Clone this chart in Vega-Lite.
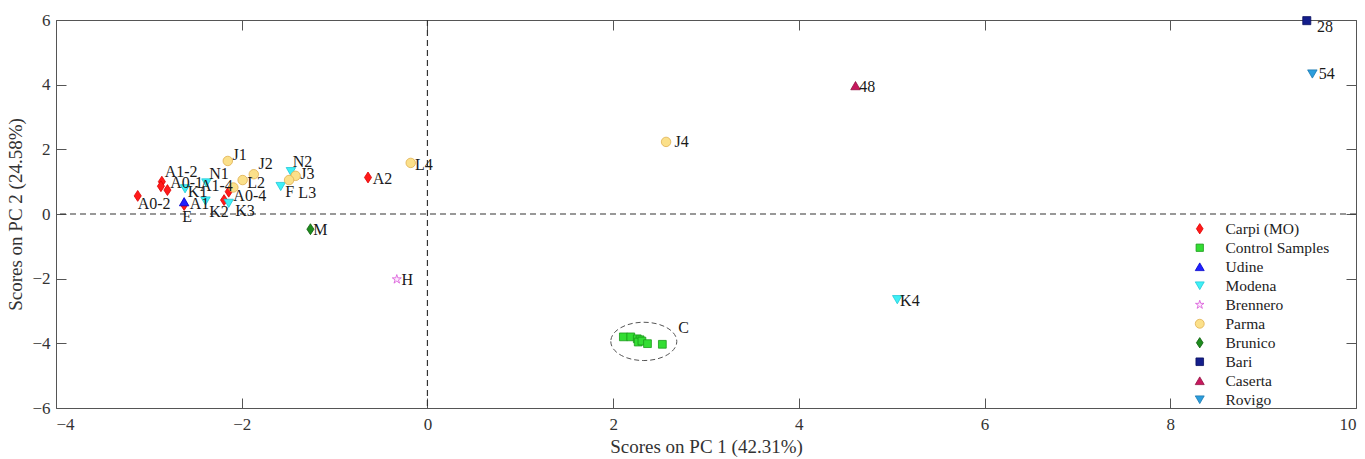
{
  "$schema": "https://vega.github.io/schema/vega-lite/v6.json",
  "width": 1300,
  "height": 388,
  "autosize": "none",
  "padding": {"left": 56, "top": 20, "right": 9, "bottom": 51},
  "background": "white",
  "config": {
    "view": {"stroke": null},
    "font": "Liberation Serif",
    "axis": {
      "grid": false,
      "domainColor": "#555555",
      "domainWidth": 1,
      "tickColor": "#555555",
      "tickWidth": 1,
      "tickSize": -10,
      "labelFont": "Liberation Serif",
      "labelFontSize": 17,
      "labelColor": "#333333",
      "titleFont": "Liberation Serif",
      "titleFontSize": 19,
      "titleFontWeight": "normal",
      "titleColor": "#333333"
    },
    "legend": {
      "orient": "none",
      "legendX": 1136,
      "legendY": 201,
      "padding": 0,
      "labelFont": "Liberation Serif",
      "labelFontSize": 15.5,
      "labelColor": "#222222",
      "labelOffset": 18,
      "rowPadding": 2,
      "symbolSize": 80,
      "symbolStrokeWidth": 0.8
    }
  },
  "datasets": {
    "points": [
      {"group": "Carpi (MO)", "pc1": -3.12, "pc2": 0.56},
      {"group": "Carpi (MO)", "pc1": -2.86, "pc2": 1.0},
      {"group": "Carpi (MO)", "pc1": -2.87, "pc2": 0.86},
      {"group": "Carpi (MO)", "pc1": -2.8, "pc2": 0.74},
      {"group": "Carpi (MO)", "pc1": -2.62, "pc2": 0.28},
      {"group": "Carpi (MO)", "pc1": -2.14, "pc2": 0.69},
      {"group": "Carpi (MO)", "pc1": -2.19, "pc2": 0.43},
      {"group": "Carpi (MO)", "pc1": -0.64, "pc2": 1.13},
      {"group": "Control Samples", "pc1": 2.11, "pc2": -3.8},
      {"group": "Control Samples", "pc1": 2.19, "pc2": -3.8},
      {"group": "Control Samples", "pc1": 2.26, "pc2": -3.86},
      {"group": "Control Samples", "pc1": 2.29, "pc2": -3.89},
      {"group": "Control Samples", "pc1": 2.27, "pc2": -3.96},
      {"group": "Control Samples", "pc1": 2.31, "pc2": -3.93},
      {"group": "Control Samples", "pc1": 2.37, "pc2": -4.01},
      {"group": "Control Samples", "pc1": 2.53, "pc2": -4.03},
      {"group": "Udine", "pc1": -2.62, "pc2": 0.38},
      {"group": "Modena", "pc1": -2.38, "pc2": 0.96},
      {"group": "Modena", "pc1": -2.61, "pc2": 0.78},
      {"group": "Modena", "pc1": -2.39, "pc2": 0.4},
      {"group": "Modena", "pc1": -2.14, "pc2": 0.33},
      {"group": "Modena", "pc1": -1.47, "pc2": 1.31},
      {"group": "Modena", "pc1": -1.58, "pc2": 0.85},
      {"group": "Modena", "pc1": 5.06, "pc2": -2.65},
      {"group": "Brennero", "pc1": -0.33, "pc2": -2.02},
      {"group": "Parma", "pc1": -2.15, "pc2": 1.64},
      {"group": "Parma", "pc1": -1.87, "pc2": 1.23},
      {"group": "Parma", "pc1": -1.99, "pc2": 1.05},
      {"group": "Parma", "pc1": -2.09, "pc2": 0.82},
      {"group": "Parma", "pc1": -1.42, "pc2": 1.18},
      {"group": "Parma", "pc1": -1.49, "pc2": 1.05},
      {"group": "Parma", "pc1": -0.18, "pc2": 1.58},
      {"group": "Parma", "pc1": 2.57, "pc2": 2.23},
      {"group": "Brunico", "pc1": -1.26, "pc2": -0.47},
      {"group": "Bari", "pc1": 9.47, "pc2": 5.98},
      {"group": "Caserta", "pc1": 4.61, "pc2": 3.97},
      {"group": "Rovigo", "pc1": 9.53, "pc2": 4.33}
    ],
    "labels": [
      {"text": "A1-2", "pc1": -2.83, "pc2": 1.3},
      {"text": "A0-1", "pc1": -2.77, "pc2": 0.96},
      {"text": "N1", "pc1": -2.35, "pc2": 1.24},
      {"text": "K1", "pc1": -2.58, "pc2": 0.68},
      {"text": "A1-4", "pc1": -2.45, "pc2": 0.87},
      {"text": "A0-2", "pc1": -3.12, "pc2": 0.31},
      {"text": "A1", "pc1": -2.56, "pc2": 0.31},
      {"text": "E", "pc1": -2.64, "pc2": -0.09},
      {"text": "K2", "pc1": -2.35, "pc2": 0.06},
      {"text": "K3", "pc1": -2.07, "pc2": 0.09},
      {"text": "A0-4", "pc1": -2.09, "pc2": 0.56},
      {"text": "J1", "pc1": -2.1, "pc2": 1.82},
      {"text": "J2", "pc1": -1.82, "pc2": 1.55},
      {"text": "L2", "pc1": -1.94, "pc2": 0.96},
      {"text": "N2", "pc1": -1.45, "pc2": 1.61},
      {"text": "J3", "pc1": -1.37, "pc2": 1.24},
      {"text": "F", "pc1": -1.53, "pc2": 0.68},
      {"text": "L3", "pc1": -1.39, "pc2": 0.65},
      {"text": "A2", "pc1": -0.59, "pc2": 1.08},
      {"text": "L4", "pc1": -0.135, "pc2": 1.52},
      {"text": "M", "pc1": -1.23, "pc2": -0.49},
      {"text": "H", "pc1": -0.28, "pc2": -2.04},
      {"text": "C", "pc1": 2.7, "pc2": -3.53},
      {"text": "J4", "pc1": 2.66, "pc2": 2.23},
      {"text": "K4", "pc1": 5.09, "pc2": -2.69},
      {"text": "48", "pc1": 4.65, "pc2": 3.93},
      {"text": "28", "pc1": 9.58, "pc2": 5.78},
      {"text": "54", "pc1": 9.6, "pc2": 4.33}
    ],
    "cluster": [{"pc1": 2.33, "pc2": -3.94}],
    "zero": [{"v": 0}]
  },
  "layer": [
    {
      "data": {"name": "zero"},
      "mark": {"type": "rule", "color": "#333333", "strokeWidth": 1.2, "strokeDash": [6, 4]},
      "encoding": {
        "x": {"field": "v", "type": "quantitative", "scale": {"domain": [-4, 10], "nice": false, "zero": false},
              "axis": {"orient": "top", "labels": false, "title": null, "values": [-4, -2, 0, 2, 4, 6, 8, 10]}}
      }
    },
    {
      "data": {"name": "zero"},
      "mark": {"type": "rule", "color": "#333333", "strokeWidth": 1.2, "strokeDash": [6, 4]},
      "encoding": {
        "y": {"field": "v", "type": "quantitative", "scale": {"domain": [-6, 6], "nice": false, "zero": false},
              "axis": {"orient": "right", "labels": false, "title": null, "values": [-6, -4, -2, 0, 2, 4, 6]}}
      }
    },
    {
      "data": {"name": "cluster"},
      "mark": {"type": "point", "shape": "M-1,0A1,0.58,0,1,0,1,0A1,0.58,0,1,0,-1,0Z", "size": 4356, "filled": false, "stroke": "#555555", "strokeWidth": 1, "strokeDash": [5, 3], "opacity": 1},
      "encoding": {
        "x": {"field": "pc1", "type": "quantitative", "scale": {"domain": [-4, 10], "nice": false, "zero": false}, "axis": null},
        "y": {"field": "pc2", "type": "quantitative", "scale": {"domain": [-6, 6], "nice": false, "zero": false}, "axis": null}
      }
    },
    {
      "data": {"name": "points"},
      "mark": {"type": "point", "filled": true, "size": 90, "strokeWidth": 0.8, "opacity": 1},
      "encoding": {
        "x": {"field": "pc1", "type": "quantitative", "scale": {"domain": [-4, 10], "nice": false, "zero": false},
              "axis": {"orient": "bottom", "values": [-4, -2, 0, 2, 4, 6, 8, 10], "title": "Scores on PC 1 (42.31%)", "labelPadding": 18, "titlePadding": 5}},
        "y": {"field": "pc2", "type": "quantitative", "scale": {"domain": [-6, 6], "nice": false, "zero": false},
              "axis": {"orient": "left", "values": [-6, -4, -2, 0, 2, 4, 6], "title": "Scores on PC 2 (24.58%)", "labelPadding": 16, "titlePadding": 6}},
        "fill": {"field": "group", "type": "nominal",
                 "scale": {"domain": ["Carpi (MO)", "Control Samples", "Udine", "Modena", "Brennero", "Parma", "Brunico", "Bari", "Caserta", "Rovigo"],
                           "range": ["#ff1a1a", "#33dd33", "#2020ff", "#3ff0f5", "#fde8fd", "#fbe08a", "#1e8c1e", "#141e8c", "#c8185e", "#2c9ddc"]},
                 "legend": {"title": null}},
        "stroke": {"field": "group", "type": "nominal",
                   "scale": {"domain": ["Carpi (MO)", "Control Samples", "Udine", "Modena", "Brennero", "Parma", "Brunico", "Bari", "Caserta", "Rovigo"],
                             "range": ["#e00000", "#1a9a1a", "#0000cc", "#20c8d8", "#d855d8", "#e0b050", "#0e5e0e", "#0a1060", "#901040", "#1a78b0"]},
                   "legend": {"title": null}},
        "shape": {"field": "group", "type": "nominal",
                  "scale": {"domain": ["Carpi (MO)", "Control Samples", "Udine", "Modena", "Brennero", "Parma", "Brunico", "Bari", "Caserta", "Rovigo"],
                            "range": ["M0,-1.15L0.75,0L0,1.15L-0.75,0Z", "M-0.82,-0.82H0.82V0.82H-0.82Z", "triangle-up", "triangle-down",
                                      "M0,-1L0.225,-0.309L0.951,-0.309L0.363,0.118L0.588,0.809L0,0.382L-0.588,0.809L-0.363,0.118L-0.951,-0.309L-0.225,-0.309Z",
                                      "circle", "M0,-1.15L0.75,0L0,1.15L-0.75,0Z", "M-0.85,-0.85H0.85V0.85H-0.85Z", "triangle-up", "triangle-down"]},
                  "legend": {"title": null}}
      }
    },
    {
      "data": {"name": "labels"},
      "mark": {"type": "text", "align": "left", "baseline": "middle", "font": "Liberation Serif", "fontSize": 16, "color": "#1a1a1a"},
      "encoding": {
        "x": {"field": "pc1", "type": "quantitative", "scale": {"domain": [-4, 10], "nice": false, "zero": false}, "axis": null},
        "y": {"field": "pc2", "type": "quantitative", "scale": {"domain": [-6, 6], "nice": false, "zero": false}, "axis": null},
        "text": {"field": "text", "type": "nominal"}
      }
    }
  ],
  "resolve": {"axis": {"x": "independent", "y": "independent"}}
}
